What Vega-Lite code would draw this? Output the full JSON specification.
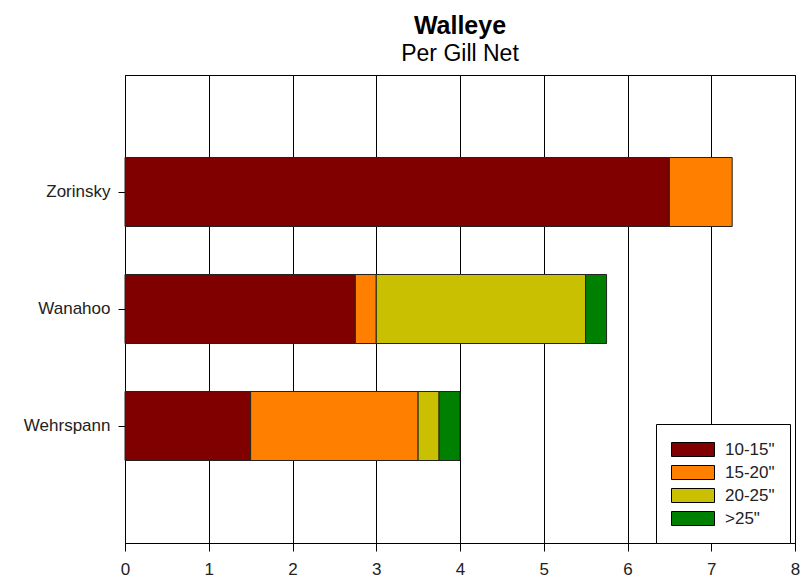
{
  "$schema": "https://vega.github.io/schema/vega-lite/v6.json",
  "width": 670,
  "height": 468,
  "autosize": {"type": "none"},
  "padding": {"left": 125, "top": 75, "right": 6, "bottom": 35},
  "background": "white",
  "title": {
    "text": "Walleye",
    "subtitle": "Per Gill Net",
    "anchor": "middle",
    "font": "Liberation Sans",
    "fontSize": 25,
    "fontWeight": "bold",
    "color": "black",
    "subtitleFont": "Liberation Sans",
    "subtitleFontSize": 23,
    "subtitleColor": "black",
    "subtitlePadding": 4,
    "offset": 9
  },
  "config": {
    "view": {"stroke": "black", "strokeWidth": 1},
    "font": "Liberation Sans"
  },
  "data": {
    "values": [
      {"lake": "Zorinsky", "size": "10-15\"", "cpue": 6.5},
      {"lake": "Zorinsky", "size": "15-20\"", "cpue": 0.75},
      {"lake": "Wanahoo", "size": "10-15\"", "cpue": 2.75},
      {"lake": "Wanahoo", "size": "15-20\"", "cpue": 0.25},
      {"lake": "Wanahoo", "size": "20-25\"", "cpue": 2.5},
      {"lake": "Wanahoo", "size": ">25\"", "cpue": 0.25},
      {"lake": "Wehrspann", "size": "10-15\"", "cpue": 1.5},
      {"lake": "Wehrspann", "size": "15-20\"", "cpue": 2.0},
      {"lake": "Wehrspann", "size": "20-25\"", "cpue": 0.25},
      {"lake": "Wehrspann", "size": ">25\"", "cpue": 0.25}
    ]
  },
  "mark": {"type": "bar", "stroke": "#222222", "strokeWidth": 1},
  "encoding": {
    "y": {
      "field": "lake",
      "type": "nominal",
      "sort": ["Zorinsky", "Wanahoo", "Wehrspann"],
      "scale": {"paddingInner": 0.41, "paddingOuter": 0.705},
      "axis": {
        "title": null,
        "domain": false,
        "ticks": true,
        "tickSize": 7,
        "tickColor": "black",
        "labelFontSize": 17,
        "labelColor": "#222222",
        "labelPadding": 8,
        "grid": false
      }
    },
    "x": {
      "field": "cpue",
      "type": "quantitative",
      "stack": "zero",
      "scale": {"domain": [0, 8], "nice": false},
      "axis": {
        "title": null,
        "values": [0, 1, 2, 3, 4, 5, 6, 7, 8],
        "grid": true,
        "gridColor": "black",
        "gridOpacity": 1,
        "domainColor": "black",
        "tickColor": "black",
        "tickSize": 8,
        "labelFontSize": 17,
        "labelColor": "#222222",
        "labelPadding": 10,
        "labelFlush": false
      }
    },
    "color": {
      "field": "size",
      "type": "nominal",
      "scale": {
        "domain": ["10-15\"", "15-20\"", "20-25\"", ">25\""],
        "range": ["#800000", "#ff8000", "#c8c000", "#008000"]
      },
      "legend": {
        "title": null,
        "orient": "none",
        "legendX": 531,
        "legendY": 349,
        "strokeColor": "black",
        "fillColor": "white",
        "padding": 15,
        "symbolType": "M-1,-0.7H3.3V0.7H-1Z",
        "symbolSize": 400,
        "symbolStrokeColor": "black",
        "symbolStrokeWidth": 1,
        "symbolOpacity": 1,
        "labelFontSize": 17,
        "labelColor": "#222222",
        "labelOffset": 33,
        "labelExpr": "datum.label + ' '",
        "rowPadding": 3
      }
    },
    "order": {"field": "size", "type": "nominal", "sort": "ascending"}
  }
}
